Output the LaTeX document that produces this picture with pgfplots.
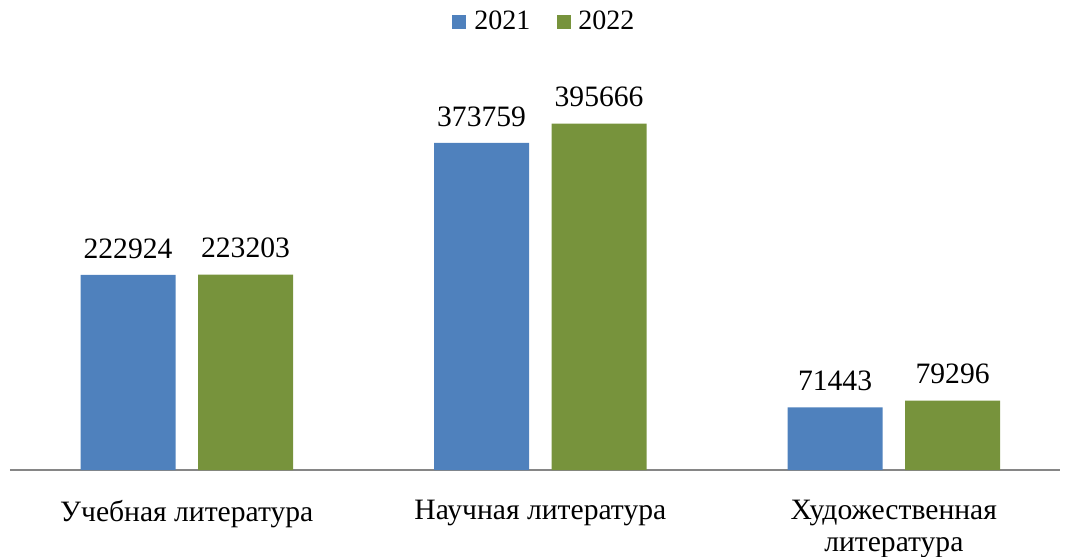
\documentclass[border=0pt]{standalone}
\usepackage{fontspec}
\setmainfont{Liberation Serif}
\usepackage{pgfplots}
\pgfplotsset{compat=1.18}
\definecolor{bblue}{HTML}{4F81BD}
\definecolor{bgreen}{HTML}{77933C}
\definecolor{axgray}{HTML}{868686}
\begin{document}
\begin{tikzpicture}
\begin{axis}[
  name=ax,
  scale only axis,
  width=525pt, height=197pt,
  ybar=11.25pt,
  bar width=47.5pt,
  ymin=0, ymax=450000,
  xmin=-0.5, xmax=2.47,
  axis y line=none,
  axis x line*=bottom,
  x axis line style={draw=axgray, line width=0.8pt, -},
  xtick=data,
  xticklabels={Учебная литература, Научная литература, {Художественная\\литература}},
  xtick style={draw=none},
  xticklabel style={font=\fontsize{14.8}{16}\selectfont, align=center, inner sep=0pt, yshift=-10.5pt},
  nodes near coords={\pgfmathprintnumber[fixed,precision=0,1000 sep={},assume math mode=true]{\pgfplotspointmeta}},
  nodes near coords style={font=\fontsize{14.8}{16}\selectfont, anchor=south, inner sep=0pt, yshift=8pt},
  legend style={draw=none, at={(0.51,1)}, anchor=south, yshift=17.5pt, font=\fontsize{14}{16}\selectfont,
    legend columns=2, /tikz/every even column/.append style={column sep=11pt},
    /tikz/every odd column/.append style={}},
  legend image code/.code={\fill[#1] (0pt,-3.5pt) rectangle (7pt,3.5pt);},
]
\addplot[fill=bblue, draw=none] coordinates {(0,222924) (1,373759) (2,71443)};
\addplot[fill=bgreen, draw=none] coordinates {(0,223203) (1,395666) (2,79296)};
\legend{\hspace{2pt}2021,\hspace{2pt}2022}
\end{axis}
\pgfresetboundingbox
\path ([xshift=-5pt,yshift=-43pt]ax.south west) rectangle ([xshift=4.5pt,yshift=38pt]ax.north east);
\end{tikzpicture}
\end{document}
